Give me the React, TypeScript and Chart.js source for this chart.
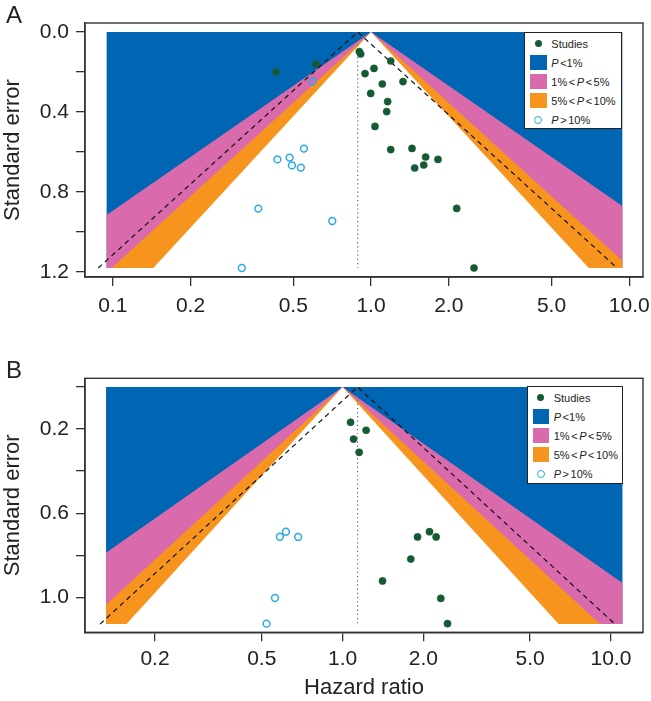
import React, { useEffect, useRef } from "react";
import { Chart, registerables } from "chart.js";

Chart.register(...registerables);

const FONT = '"Liberation Sans", Arial, Helvetica, sans-serif';

// ---------- data ----------
const X_TICKS = [0.1, 0.2, 0.5, 1, 2, 5, 10];

const A_Y_TICKS = [0, 0.2, 0.4, 0.6, 0.8, 1.0, 1.2];
const A_Y_LABELED = [0, 0.4, 0.8, 1.2];
const B_Y_TICKS = [0, 0.2, 0.4, 0.6, 0.8, 1.0];
const B_Y_LABELED = [0.2, 0.6, 1.0];

// Panel A: studies (filled) and P > 10% (open)
const A_STUDY_HR = [0.428, 0.612, 0.901, 0.912, 1.192, 1.027, 0.948, 1.106, 1.33, 0.997, 1.16, 1.15, 1.036, 1.192, 1.441, 1.628, 1.817, 1.6, 1.476, 2.147, 2.505];
const A_STUDY_SE = [0.2, 0.16, 0.098, 0.11, 0.145, 0.182, 0.208, 0.26, 0.248, 0.307, 0.348, 0.398, 0.472, 0.588, 0.582, 0.625, 0.637, 0.665, 0.68, 0.882, 1.18];
const A_NS_HR = [0.594, 0.55, 0.434, 0.484, 0.494, 0.535, 0.366, 0.316, 0.708];
const A_NS_SE = [0.248, 0.583, 0.637, 0.628, 0.667, 0.678, 0.883, 1.18, 0.945];

// Panel B
const B_STUDY_HR = [1.071, 1.224, 1.099, 1.153, 2.109, 1.903, 2.232, 1.796, 1.409, 2.323, 2.461];
const B_STUDY_SE = [0.168, 0.206, 0.248, 0.311, 0.688, 0.713, 0.713, 0.818, 0.922, 1.005, 1.125];
const B_NS_HR = [0.584, 0.615, 0.683, 0.56, 0.521];
const B_NS_SE = [0.712, 0.688, 0.713, 1.003, 1.125];

// pooled estimates and contour settings
const A_POOLED = 0.888;
const B_POOLED = 1.137;
const Z_P01 = 2.576;
const Z_P05 = 1.96;
const Z_P10 = 1.645;

const COL_BLUE = "#0066b3";
const COL_PINK = "#d96bad";
const COL_ORANGE = "#f7941e";
const COL_GREEN = "#145a32";
const COL_CYAN = "#29abe2";
const COL_AXIS = "#333333";
const COL_TEXT = "#222222";

type Spec = {
  xMin: number; xMax: number; yMin: number; yMax: number;
  shadeL: number; shadeR: number; seMax: number; pooled: number;
  studyHR: number[]; studySE: number[]; nsHR: number[]; nsSE: number[];
  yTicks: number[]; yLabeled: number[];
  width: number; height: number; padTop: number; xAxisH: number; xTitle: string | null; xPad: number;
};

const SPEC_A: Spec = {
  xMin: 0.0781, xMax: 11.3, yMin: -0.045, yMax: 1.225,
  shadeL: 0.0947, shadeR: 9.4, seMax: 1.18, pooled: A_POOLED,
  studyHR: A_STUDY_HR, studySE: A_STUDY_SE, nsHR: A_NS_HR, nsSE: A_NS_SE,
  yTicks: A_Y_TICKS, yLabeled: A_Y_LABELED,
  width: 651, height: 330, padTop: 23, xAxisH: 53, xTitle: null, xPad: 8,
};

const SPEC_B: Spec = {
  xMin: 0.1097, xMax: 13.17, yMin: -0.041, yMax: 1.166,
  shadeL: 0.1314, shadeR: 11.04, seMax: 1.127, pooled: B_POOLED,
  studyHR: B_STUDY_HR, studySE: B_STUDY_SE, nsHR: B_NS_HR, nsSE: B_NS_SE,
  yTicks: B_Y_TICKS, yLabeled: B_Y_LABELED,
  width: 651, height: 371, padTop: 48.3, xAxisH: 68.7, xTitle: "Hazard ratio", xPad: 5,
};

function funnel(z: number, xL: number, xR: number, smax: number) {
  const pts: { x: number; y: number }[] = [{ x: 1, y: 0 }];
  const lEnd = Math.exp(-z * smax);
  if (lEnd >= xL) pts.push({ x: lEnd, y: smax });
  else {
    pts.push({ x: xL, y: -Math.log(xL) / z });
    pts.push({ x: xL, y: smax });
  }
  const rEnd = Math.exp(z * smax);
  if (rEnd <= xR) pts.push({ x: rEnd, y: smax });
  else {
    pts.push({ x: xR, y: smax });
    pts.push({ x: xR, y: Math.log(xR) / z });
  }
  pts.push({ x: 1, y: 0 });
  return pts;
}

function area(data: { x: number; y: number }[], color: string, order: number) {
  return {
    type: "line",
    data,
    showLine: true,
    fill: "shape",
    backgroundColor: color,
    borderColor: "rgba(0,0,0,0)",
    borderWidth: 0,
    pointRadius: 0,
    tension: 0,
    order,
  };
}

const boxPlugin = {
  id: "rbox",
  afterDatasetsDraw(chart: any) {
    const { ctx, chartArea } = chart;
    ctx.save();
    ctx.strokeStyle = COL_AXIS;
    ctx.lineWidth = 1.4;
    ctx.strokeRect(chartArea.left, chartArea.top, chartArea.right - chartArea.left, chartArea.bottom - chartArea.top);
    ctx.restore();
  },
};

function buildConfig(s: Spec): any {
  const { shadeL, shadeR, seMax, pooled } = s;
  const rect = [
    { x: shadeL, y: 0 }, { x: shadeR, y: 0 }, { x: shadeR, y: seMax }, { x: shadeL, y: seMax }, { x: shadeL, y: 0 },
  ];
  const dashed = [
    { x: pooled * Math.exp(-Z_P05 * seMax), y: seMax },
    { x: pooled, y: 0 },
    { x: pooled * Math.exp(Z_P05 * seMax), y: seMax },
  ];
  const dotted = [{ x: pooled, y: 0 }, { x: pooled, y: seMax }];
  const datasets: any[] = [
    area(rect, COL_BLUE, 10),
    area(funnel(Z_P01, shadeL, shadeR, seMax), COL_PINK, 9),
    area(funnel(Z_P05, shadeL, shadeR, seMax), COL_ORANGE, 8),
    area(funnel(Z_P10, shadeL, shadeR, seMax), "#ffffff", 7),
    {
      type: "line", data: dotted, showLine: true, fill: false, borderColor: "#666666",
      borderWidth: 1.2, borderDash: [1.2, 3], pointRadius: 0, order: 5,
    },
    {
      type: "line", data: dashed, showLine: true, fill: false, borderColor: "#111111",
      borderWidth: 1.2, borderDash: [5, 4], pointRadius: 0, order: 4,
    },
    {
      type: "scatter", data: s.nsHR.map((v, i) => ({ x: v, y: s.nsSE[i] })),
      pointRadius: 3.4, pointBorderWidth: 1.5, borderColor: COL_CYAN, backgroundColor: "rgba(0,0,0,0)",
      pointBackgroundColor: "rgba(0,0,0,0)", pointBorderColor: COL_CYAN, showLine: false, order: 2,
    },
    {
      type: "scatter", data: s.studyHR.map((v, i) => ({ x: v, y: s.studySE[i] })),
      pointRadius: 3.6, pointBorderWidth: 0.5, borderColor: COL_GREEN, backgroundColor: COL_GREEN,
      pointBackgroundColor: COL_GREEN, pointBorderColor: COL_GREEN, showLine: false, order: 1,
    },
  ];
  const tickFont = { family: FONT, size: 21 };
  const titleFont = { family: FONT, size: 22 };
  return {
    type: "scatter",
    data: { datasets },
    options: {
      animation: false,
      responsive: false,
      events: [],
      layout: { padding: { left: 0, right: 8, top: s.padTop, bottom: 0 } },
      plugins: { legend: { display: false }, tooltip: { enabled: false }, title: { display: false } },
      scales: {
        x: {
          type: "logarithmic",
          position: "bottom",
          min: s.xMin,
          max: s.xMax,
          afterBuildTicks: (sc: any) => {
            sc.ticks = X_TICKS.filter((v) => v >= s.xMin && v <= s.xMax).map((v) => ({ value: v }));
          },
          afterFit: (sc: any) => {
            sc.height = s.xAxisH;
            sc.paddingLeft = 0;
            sc.paddingRight = 0;
          },
          ticks: {
            autoSkip: false, maxRotation: 0, minRotation: 0, padding: s.xPad, color: COL_TEXT, font: tickFont,
            callback: (v: any) => Number(v).toFixed(1),
          },
          grid: { display: true, drawOnChartArea: false, drawTicks: true, tickLength: 9, color: COL_AXIS, lineWidth: 1.3 },
          border: { display: true, color: COL_AXIS, width: 1.4 },
          title: s.xTitle
            ? { display: true, text: s.xTitle, color: COL_TEXT, font: titleFont, padding: { top: 0, bottom: 0 } }
            : { display: false },
        },
        y: {
          type: "linear",
          reverse: true,
          min: s.yMin,
          max: s.yMax,
          afterBuildTicks: (sc: any) => {
            sc.ticks = s.yTicks.map((v) => ({ value: v }));
          },
          afterFit: (sc: any) => { sc.width = 85; },
          ticks: {
            autoSkip: false, padding: 7, color: COL_TEXT, font: tickFont,
            callback: (v: any) => (s.yLabeled.some((l) => Math.abs(l - Number(v)) < 1e-9) ? Number(v).toFixed(1) : ""),
          },
          grid: { display: true, drawOnChartArea: false, drawTicks: true, tickLength: 9, color: COL_AXIS, lineWidth: 1.3 },
          border: { display: true, color: COL_AXIS, width: 1.4 },
          title: { display: true, text: "Standard error", color: COL_TEXT, font: titleFont, padding: { top: 0, bottom: 0 } },
        },
      },
    },
    plugins: [boxPlugin],
  };
}

function FunnelCanvas({ spec }: { spec: Spec }) {
  const ref = useRef<HTMLCanvasElement | null>(null);
  useEffect(() => {
    if (!ref.current) return;
    const chart = new Chart(ref.current, buildConfig(spec));
    return () => chart.destroy();
  }, [spec]);
  return (
    <canvas
      ref={ref}
      width={spec.width}
      height={spec.height}
      style={{ display: "block", width: spec.width, height: spec.height }}
    />
  );
}

const LEGEND_ROWS = [
  { kind: "dot", label: <span>Studies</span> },
  { kind: "sq", color: COL_BLUE, label: <span><i>P</i> &lt;1%</span> },
  { kind: "sq", color: COL_PINK, label: <span>1% &lt; <i>P</i> &lt; 5%</span> },
  { kind: "sq", color: COL_ORANGE, label: <span>5% &lt; <i>P</i> &lt; 10%</span> },
  { kind: "ring", label: <span><i>P</i> &gt; 10%</span> },
];

function Legend({ left, top, width, height }: { left: number; top: number; width: number; height: number }) {
  return (
    <div
      style={{
        position: "absolute", left, top, width, height, boxSizing: "border-box",
        border: "1.5px solid #222", background: "#fff", fontFamily: FONT, fontSize: 11, color: COL_TEXT,
      }}
    >
      {LEGEND_ROWS.map((r, i) => {
        const cy = 10.5 + i * 19;
        return (
          <div key={i}>
            {r.kind === "sq" && (
              <div style={{ position: "absolute", left: 5, top: cy - 7.5, width: 16.5, height: 15, background: r.color }} />
            )}
            {r.kind === "dot" && (
              <div style={{ position: "absolute", left: 13 - 3.5, top: cy - 3.5, width: 7, height: 7, borderRadius: "50%", background: COL_GREEN }} />
            )}
            {r.kind === "ring" && (
              <div style={{ position: "absolute", left: 13 - 4, top: cy - 4, width: 8, height: 8, boxSizing: "border-box", borderRadius: "50%", border: `1.5px solid ${COL_CYAN}` }} />
            )}
            <div style={{ position: "absolute", left: 26, top: cy - 7, lineHeight: "14px", whiteSpace: "nowrap", wordSpacing: "-1.5px" }}>{r.label}</div>
          </div>
        );
      })}
    </div>
  );
}

export default function App() {
  return (
    <div style={{ position: "absolute", left: 0, top: 0, width: 651, height: 701, background: "#fff" }}>
      <div style={{ position: "absolute", left: 0, top: 0 }}>
        <FunnelCanvas spec={SPEC_A} />
      </div>
      <div style={{ position: "absolute", left: 0, top: 330 }}>
        <FunnelCanvas spec={SPEC_B} />
      </div>
      <div style={{ position: "absolute", left: 6, top: 2, fontFamily: FONT, fontSize: 24, color: COL_TEXT, lineHeight: "26px" }}>A</div>
      <div style={{ position: "absolute", left: 6, top: 357, fontFamily: FONT, fontSize: 24, color: COL_TEXT, lineHeight: "26px" }}>B</div>
      <Legend left={524.3} top={32} width={97.4} height={97.3} />
      <Legend left={526.7} top={386} width={96.6} height={98} />
    </div>
  );
}
